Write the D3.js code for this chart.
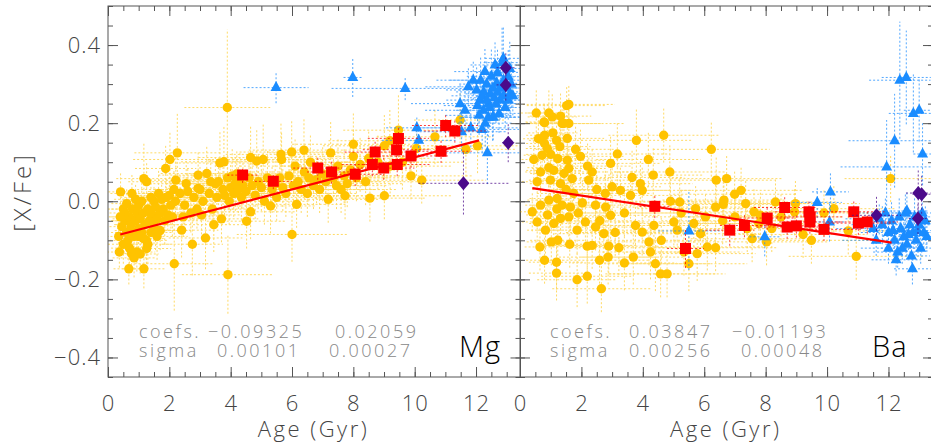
<!DOCTYPE html>
<head>
  <meta charset="utf-8">
  <title>[X/Fe] vs age</title>
  <script src="https://d3js.org/d3.v7.min.js"></script>
  <style>
    body { margin: 0; background: #fff; }
    text { font-family: 'Open Sans', 'DejaVu Sans', sans-serif; font-weight: 300; }
    .axis path { display: none; }
    .axis line { stroke: #555; }
    .axis text { font-size: 22px; fill: #444; letter-spacing: 1px; }
    .frame { fill: none; stroke: #555; stroke-width: 1; }
    .err { stroke-dasharray: 2,2; stroke-width: 1; fill: none; }
    .stat { font-size: 18px; fill: #888; letter-spacing: 2.5px; }
    .elem { font-size: 29px; fill: #000; letter-spacing: 1px; }
    .title { font-size: 22px; fill: #444; letter-spacing: 2.5px; }
  </style>
</head>
<body>
<script>
// tick labels
var ageTicks = [0, 2, 4, 6, 8, 10, 12];
var valTicks = [-0.4, -0.2, 0.0, 0.2, 0.4];

// [age, [X/Fe], age error, [X/Fe] error]
var mgDisk = [
  [0.41,0.024,0.4,0.05],[0.37,-0.130,0.4,0.04],[0.68,-0.173,0.5,0.04],[1.17,-0.173,0.7,0.05],[0.77,-0.134,0.5,0.04],
  [0.94,-0.130,0.6,0.05],[1.26,-0.121,0.8,0.05],[0.61,-0.006,0.5,0.04],[0.78,0.020,0.7,0.05],[1.17,0.058,0.9,0.09],
  [1.26,0.050,0.6,0.05],[0.50,-0.020,0.5,0.04],[0.55,-0.050,0.4,0.05],[0.60,-0.080,0.5,0.04],[0.65,-0.100,0.6,0.05],
  [0.70,-0.040,0.6,0.03],[0.75,-0.060,0.5,0.04],[0.80,-0.020,0.7,0.04],[0.85,-0.090,0.6,0.05],[0.90,-0.050,0.8,0.04],
  [0.95,-0.030,0.5,0.03],[1.00,-0.070,0.7,0.05],[1.00,-0.010,0.6,0.04],[1.05,-0.045,0.9,0.05],[1.10,-0.080,0.6,0.04],
  [1.10,0.000,0.7,0.05],[1.15,-0.030,0.8,0.04],[1.20,-0.060,1.0,0.05],[1.25,-0.100,0.7,0.06],[1.30,-0.020,0.9,0.04],
  [1.35,-0.050,0.8,0.05],[1.40,0.010,1.0,0.05],[1.40,-0.080,0.7,0.04],[1.45,-0.035,0.9,0.05],[1.50,-0.060,1.1,0.05],
  [1.50,0.000,0.8,0.04],[1.55,-0.015,0.9,0.05],[1.60,-0.045,1.0,0.05],[1.65,0.020,1.2,0.06],[1.70,-0.030,0.9,0.04],
  [1.70,-0.075,1.0,0.05],[1.75,0.005,1.1,0.05],[1.80,-0.020,0.8,0.05],[1.85,-0.050,1.2,0.06],[1.90,0.010,1.0,0.05],
  [1.95,-0.035,0.9,0.04],[2.00,0.015,1.1,0.05],[2.05,-0.010,1.3,0.06],[2.10,-0.040,1.0,0.05],[2.15,0.030,1.2,0.05],
  [2.20,0.000,1.0,0.04],[0.45,-0.065,0.4,0.05],[0.50,-0.110,0.5,0.05],[0.55,-0.030,0.5,0.04],[0.70,-0.120,0.6,0.05],
  [0.85,-0.145,0.7,0.05],[1.05,-0.135,0.6,0.05],[0.35,-0.090,0.4,0.05],[0.40,-0.040,0.5,0.04],[0.90,0.005,0.7,0.04],
  [1.30,-0.110,0.8,0.05],[1.60,-0.090,1.0,0.06],[1.15,-0.095,0.7,0.05],[0.72,-0.075,0.5,0.04],[0.98,-0.090,0.6,0.05],
  [1.38,-0.030,0.8,0.04],[1.55,-0.075,0.9,0.05],
  [1.88,0.084,1.0,0.06],[2.02,0.107,1.2,0.07],[2.26,0.124,1.4,0.10],[2.21,0.054,1.1,0.06],[2.40,-0.074,1.2,0.07],
  [2.75,-0.110,1.0,0.08],[2.16,-0.160,1.3,0.12],[3.18,-0.094,1.2,0.08],[2.94,0.067,1.3,0.06],[3.22,0.071,1.5,0.07],
  [2.94,0.033,1.0,0.05],[2.35,0.020,1.2,0.05],[2.50,-0.010,1.0,0.05],[2.60,0.025,1.3,0.06],[2.70,-0.030,1.1,0.05],
  [2.80,0.010,1.4,0.06],[2.90,-0.020,1.2,0.05],[3.00,0.030,1.5,0.06],[3.10,0.000,1.3,0.05],[3.30,0.020,1.4,0.06],
  [3.40,-0.020,1.2,0.05],[3.50,0.045,1.6,0.07],[3.55,0.010,1.3,0.05],[3.60,0.050,1.4,0.06],[3.70,-0.045,1.2,0.06],
  [3.75,0.030,1.5,0.06],[3.80,0.015,1.3,0.05],[3.90,0.060,1.6,0.07],[3.95,0.000,1.4,0.06],[2.45,-0.040,1.0,0.05],
  [2.55,0.045,1.2,0.06],[3.05,-0.035,1.3,0.06],[3.35,0.050,1.5,0.06],[3.45,-0.060,1.2,0.07],[3.65,0.098,1.6,0.08],
  [3.78,0.101,1.4,0.09],[3.89,0.240,1.4,0.20],[3.91,-0.188,1.5,0.10],
  [4.00,0.035,1.5,0.06],[4.05,0.065,1.6,0.07],[4.10,0.020,1.4,0.06],[4.15,0.045,1.7,0.07],[4.20,0.070,1.5,0.06],
  [4.25,0.030,1.6,0.06],[4.30,0.055,1.8,0.07],[4.35,0.010,1.4,0.06],[4.40,0.040,1.6,0.06],[4.50,0.025,1.5,0.06],
  [4.52,-0.051,1.3,0.07],[4.65,-0.027,1.5,0.07],[4.65,0.112,1.7,0.08],[4.85,0.103,1.6,0.08],[5.06,0.107,1.8,0.09],
  [4.60,0.060,1.5,0.06],[4.70,0.040,1.6,0.06],[4.80,0.015,1.4,0.06],[4.90,0.050,1.7,0.07],[5.00,0.035,1.6,0.06],
  [5.10,0.000,1.5,0.06],[5.20,0.060,1.7,0.07],[5.30,-0.012,1.5,0.07],[5.35,0.030,1.6,0.06],[5.45,0.045,1.8,0.07],
  [5.50,0.010,1.5,0.06],[5.64,0.120,1.8,0.08],[5.66,0.107,1.6,0.07],[5.60,0.060,1.7,0.06],[5.70,0.035,1.5,0.06],
  [5.80,0.020,1.6,0.06],[5.90,0.065,1.7,0.07],[6.00,-0.085,1.8,0.07],[5.99,0.126,1.7,0.08],[6.39,0.131,1.8,0.08],
  [6.15,-0.008,1.6,0.06],[6.05,0.040,1.7,0.06],[6.10,0.090,1.8,0.07],[6.20,0.050,1.6,0.06],[6.30,0.030,1.7,0.06],
  [6.40,0.075,1.8,0.07],[6.50,0.020,1.6,0.06],[6.55,0.060,1.7,0.06],[6.60,0.100,1.9,0.07],[6.70,0.040,1.7,0.06],
  [6.80,0.055,1.8,0.06],[6.90,0.030,1.8,0.06],[7.00,0.070,1.9,0.07],[7.10,0.050,1.8,0.06],[7.18,0.005,1.7,0.06],
  [7.26,0.124,2.0,0.08],[7.35,0.060,1.8,0.06],[7.45,0.040,1.7,0.06],[7.50,0.090,1.9,0.07],[7.60,0.030,1.8,0.06],
  [7.73,0.014,1.7,0.06],[7.70,0.065,1.9,0.07],[7.80,0.045,1.8,0.06],[7.90,0.080,2.0,0.07],[8.00,0.146,2.0,0.08],
  [8.00,0.115,1.9,0.07],[8.10,0.060,1.8,0.06],[8.22,0.094,2.0,0.07],[8.40,0.050,1.9,0.06],[8.54,0.008,1.8,0.06],
  [8.50,0.110,2.0,0.07],[8.80,0.100,2.0,0.07],[9.01,0.014,2.2,0.06],[9.01,0.142,2.0,0.08],[9.19,0.155,2.0,0.08],
  [9.47,0.182,1.8,0.09],[9.20,0.090,2.0,0.07],[9.88,0.065,2.0,0.06],[10.23,0.054,2.1,0.06],[10.66,0.165,1.9,0.07],
  [11.48,0.208,1.5,0.07],[11.67,0.133,1.6,0.07],[12.05,0.142,1.5,0.07],[10.06,0.135,2.0,0.07],[9.60,0.100,2.0,0.07]
];
var mgHalo = [
  [5.48,0.291,1.06,0.04],[7.98,0.317,0.3,0.05],[9.69,0.289,2.4,0.03],[10.07,0.188,1.0,0.03],[10.13,0.156,1.2,0.04],
  [12.37,0.124,1.5,0.08],[12.54,0.215,1.0,0.06],[11.83,0.188,1.8,0.05],[11.53,0.178,1.5,0.05],[12.20,0.184,1.2,0.06],
  [12.62,0.349,0.8,0.06],[12.89,0.366,0.6,0.08],[12.29,0.332,1.0,0.06],[11.91,0.310,1.2,0.05],[11.75,0.293,1.4,0.05],
  [11.48,0.250,1.6,0.05],[11.64,0.233,1.3,0.05],[12.02,0.285,1.0,0.06],[12.13,0.259,1.1,0.05],[12.24,0.233,0.9,0.05],
  [12.46,0.275,0.8,0.06],[12.67,0.302,0.7,0.06],[12.78,0.259,0.7,0.05],[13.05,0.319,0.5,0.07],[13.11,0.276,0.5,0.06],
  [13.05,0.259,0.6,0.05],[12.56,0.216,0.9,0.06],[12.35,0.300,0.9,0.06],[12.40,0.250,1.0,0.05],[12.50,0.320,0.8,0.07],
  [12.70,0.330,0.7,0.06],[12.80,0.290,0.6,0.05],[12.90,0.310,0.6,0.06],[12.95,0.240,0.6,0.05],[13.00,0.290,0.5,0.06],
  [13.15,0.300,0.4,0.06],[12.20,0.270,1.0,0.05],[12.10,0.220,1.1,0.05],[12.30,0.200,0.9,0.06],[12.45,0.240,0.8,0.05],
  [12.60,0.265,0.8,0.05],[12.75,0.225,0.7,0.05],[12.85,0.355,0.6,0.09],[13.20,0.270,0.4,0.05],[12.15,0.310,1.0,0.06],
  [12.55,0.290,0.8,0.05],[12.65,0.250,0.7,0.05],[12.05,0.245,1.1,0.05],[13.10,0.340,0.5,0.07],[12.25,0.280,0.9,0.05],
  [12.40,0.215,0.9,0.05],[12.70,0.280,0.7,0.05],[12.90,0.270,0.6,0.05],[12.35,0.260,0.9,0.05]
];
var mgThick = [
  [4.39,0.067,0.5,0.02],[5.39,0.051,0.6,0.02],[6.84,0.085,0.8,0.03],[7.29,0.075,0.8,0.03],[8.06,0.069,0.9,0.03],
  [8.62,0.094,1.0,0.03],[8.71,0.126,1.0,0.03],[8.99,0.085,1.0,0.03],[9.41,0.132,1.1,0.04],[9.47,0.161,1.0,0.03],
  [9.43,0.094,1.1,0.03],[9.88,0.116,1.2,0.03],[10.86,0.128,1.0,0.03],[11.01,0.194,1.1,0.03],[11.31,0.180,1.0,0.03]
];
var mgOdd = [[12.97,0.342,0.3,0.04],[12.97,0.298,0.3,0.04],[13.05,0.150,0.2,0.05],[11.59,0.046,1.47,0.08]];
var mgFit = [-0.09325, 0.02059], mgSigma = [0.00101, 0.00027];

var baDisk = [
  [1.59,0.248,1.5,0.05],[1.52,0.245,1.3,0.05],[0.53,0.226,0.5,0.06],[0.78,0.203,0.6,0.05],[1.05,0.216,0.8,0.06],
  [1.32,0.218,1.0,0.06],[1.37,0.199,0.9,0.05],[1.59,0.199,1.8,0.05],[0.94,0.226,0.7,0.06],[0.80,0.201,0.6,0.05],
  [1.43,0.199,1.2,0.05],[0.80,0.169,0.6,0.07],[1.07,0.175,0.8,0.06],[1.19,0.156,0.9,0.06],[1.54,0.161,1.2,0.06],
  [0.80,0.148,0.6,0.05],[0.89,0.135,0.7,0.06],[1.81,0.133,1.3,0.06],[1.97,0.115,1.4,0.07],[0.45,0.107,0.4,0.06],
  [0.72,0.118,0.6,0.05],[1.23,0.109,0.9,0.06],[1.54,0.105,1.2,0.06],[0.94,0.086,0.7,0.06],[0.67,0.075,0.5,0.05],
  [1.10,0.079,0.9,0.06],[1.43,0.071,1.1,0.06],[1.59,0.084,1.2,0.06],[2.35,0.075,1.5,0.06],[2.95,0.097,1.6,0.07],
  [3.17,0.121,1.7,0.08],[3.79,0.156,1.8,0.08],[4.68,0.169,1.8,0.07],[4.18,0.107,1.7,0.07],[4.34,0.067,1.6,0.07],
  [4.88,0.075,1.8,0.07],[5.20,-0.002,1.7,0.06],[6.23,0.133,1.9,0.07],[6.73,0.058,1.8,0.06],[6.39,0.054,1.9,0.06],
  [0.56,0.050,0.5,0.05],[0.99,0.054,0.7,0.05],[1.32,0.045,1.0,0.05],[1.70,0.058,1.2,0.06],[2.24,0.054,1.5,0.06],
  [2.78,0.020,1.5,0.06],[3.00,0.037,1.6,0.06],[3.27,0.028,1.6,0.06],[3.65,0.061,1.7,0.07],[3.92,0.045,1.7,0.06],
  [3.98,0.028,1.6,0.06],[3.60,0.015,1.7,0.06],[0.40,-0.027,0.4,0.05],[0.67,-0.010,0.5,0.05],[0.94,0.003,0.7,0.05],
  [1.21,0.007,0.9,0.05],[1.37,-0.010,1.0,0.05],[1.64,-0.015,1.2,0.06],[2.03,-0.004,1.4,0.06],[2.46,-0.010,1.5,0.06],
  [2.79,-0.015,1.6,0.06],[2.95,-0.036,1.6,0.06],[0.56,-0.053,0.5,0.05],[0.83,-0.074,0.6,0.06],[1.10,-0.057,0.8,0.05],
  [1.32,-0.044,1.0,0.05],[1.59,-0.040,1.2,0.05],[1.86,-0.074,1.3,0.06],[2.13,-0.053,1.4,0.06],[2.46,-0.066,1.5,0.06],
  [2.73,-0.083,1.6,0.06],[0.65,-0.117,0.5,0.06],[1.02,-0.104,0.8,0.06],[1.23,-0.100,0.9,0.06],[1.62,-0.110,1.1,0.06],
  [2.19,-0.115,1.4,0.07],[2.35,-0.113,1.5,0.06],[2.89,-0.115,1.6,0.07],[3.22,-0.119,1.7,0.07],[0.80,-0.151,0.6,0.06],
  [1.19,-0.156,0.9,0.07],[2.59,-0.151,1.6,0.07],[2.87,-0.143,1.6,0.07],[3.40,-0.158,1.7,0.07],[3.69,-0.143,1.7,0.07],
  [1.19,-0.184,0.9,0.07],[1.86,-0.201,1.3,0.07],[2.19,-0.192,1.5,0.07],[2.65,-0.224,1.6,0.06],[3.76,-0.062,1.7,0.06],
  [3.98,-0.079,1.7,0.06],[4.20,-0.104,1.8,0.06],[4.25,-0.130,1.7,0.07],[4.41,-0.160,1.8,0.07],[4.58,-0.186,1.8,0.06],
  [4.79,-0.186,1.9,0.06],[4.36,-0.062,1.8,0.06],[5.01,-0.053,1.8,0.06],[5.34,-0.130,1.9,0.06],[5.77,-0.134,1.9,0.07],
  [6.10,-0.117,1.9,0.06],[6.37,-0.119,2.0,0.06],[5.66,-0.057,1.9,0.06],[5.88,-0.083,1.9,0.06],[6.04,-0.040,2.0,0.06],
  [6.37,-0.015,2.0,0.06],[6.64,0.003,2.0,0.06],[5.72,-0.019,1.9,0.06],[5.12,-0.074,1.8,0.06],[6.99,0.018,2.0,0.06],
  [7.20,0.028,2.0,0.06],[6.62,-0.008,2.0,0.06],[7.35,-0.006,2.0,0.06],[7.62,-0.027,2.0,0.06],[7.83,-0.036,2.1,0.06],
  [8.32,-0.002,2.0,0.06],[8.97,-0.006,2.1,0.06],[8.94,-0.027,2.0,0.06],[7.56,-0.096,2.0,0.06],[8.03,-0.104,2.0,0.06],
  [9.22,-0.085,2.1,0.06],[9.49,-0.100,2.0,0.06],[9.90,-0.030,2.0,0.06],[10.22,-0.019,2.0,0.06],[10.69,-0.076,2.0,0.06],
  [10.95,-0.141,2.2,0.06],[12.07,0.058,1.5,0.06],[7.78,-0.057,2.0,0.06],[1.75,0.020,1.2,0.05],[2.50,0.030,1.5,0.06],
  [1.90,-0.030,1.3,0.05],[2.20,0.090,1.4,0.06],[0.60,0.160,0.5,0.06],[1.30,0.140,1.0,0.06],[1.00,0.120,0.8,0.06],
  [1.20,-0.020,0.9,0.05],[0.90,-0.035,0.7,0.05],[1.50,0.030,1.1,0.05],[2.60,-0.050,1.5,0.06],[3.10,-0.080,1.6,0.06],
  [3.40,-0.030,1.7,0.06],[4.60,-0.100,1.8,0.06],[5.50,-0.160,1.9,0.07],[5.25,-0.030,1.8,0.06],[4.90,0.000,1.8,0.06],
  [6.60,-0.050,2.0,0.06],[7.00,-0.040,2.0,0.06],[7.40,-0.070,2.0,0.06],[8.50,-0.040,2.0,0.06],[8.20,-0.070,2.0,0.06]
];
var baHalo = [
  [5.50,-0.076,1.0,0.10],[7.97,-0.091,0.5,0.05],[9.68,-0.003,0.8,0.04],[10.11,0.024,0.6,0.05],[10.08,-0.053,0.5,0.05],
  [11.94,0.088,1.5,0.12],[12.20,0.155,1.5,0.12],[12.37,0.310,1.0,0.15],[12.58,0.317,0.8,0.12],[12.81,0.225,0.8,0.10],
  [13.00,0.233,0.5,0.08],[13.11,0.121,0.3,0.08],[12.78,-0.173,0.6,0.04],
  [11.50,-0.070,1.2,0.04],[11.60,-0.100,1.1,0.04],[11.80,-0.060,1.0,0.05],[11.90,-0.030,1.0,0.04],[12.00,-0.080,0.9,0.04],
  [12.10,-0.050,0.9,0.05],[12.20,-0.100,0.8,0.04],[12.30,-0.130,0.8,0.04],[12.35,-0.040,0.8,0.05],[12.40,-0.070,0.8,0.04],
  [12.50,-0.090,0.7,0.04],[12.55,-0.030,0.7,0.05],[12.60,-0.110,0.7,0.04],[12.70,-0.060,0.6,0.04],[12.75,-0.140,0.6,0.04],
  [12.80,-0.080,0.6,0.04],[12.85,-0.040,0.6,0.05],[12.90,-0.100,0.5,0.04],[13.00,-0.060,0.5,0.04],[13.05,-0.120,0.5,0.04],
  [13.10,-0.030,0.4,0.05],[13.15,-0.080,0.4,0.04],[13.20,-0.050,0.4,0.04],[12.25,-0.150,0.8,0.04],[12.45,-0.120,0.7,0.04],
  [12.65,-0.085,0.7,0.04],[12.95,-0.075,0.5,0.04],[12.15,-0.075,0.9,0.04],[13.25,-0.090,0.3,0.04],[12.00,-0.120,0.9,0.04],
  [11.70,-0.045,1.1,0.04],[12.60,-0.025,0.7,0.05]
];
var baThick = [
  [4.39,-0.013,0.5,0.03],[5.39,-0.121,0.6,0.05],[6.83,-0.074,0.8,0.04],[7.31,-0.062,0.8,0.03],[8.05,-0.043,0.9,0.03],
  [8.62,-0.016,1.0,0.03],[8.70,-0.066,1.0,0.03],[9.00,-0.063,1.0,0.03],[9.41,-0.027,1.1,0.03],[9.44,-0.053,1.0,0.03],
  [9.45,-0.040,1.1,0.03],[9.90,-0.072,1.2,0.03],[10.87,-0.027,1.0,0.03],[11.02,-0.056,1.1,0.03],[11.31,-0.053,1.0,0.03]
];
var baOdd = [[11.61,-0.036,0.8,0.05],[12.97,0.021,0.4,0.06],[13.08,0.018,0.3,0.05],[12.96,-0.044,0.3,0.04]];
var baFit = [0.03847, -0.01193], baSigma = [0.00256, 0.00048];

var fitRange = [0.4, 12.1];

var panels = [
  {name: "Mg", left: 108, right: 520.5, disk: mgDisk, halo: mgHalo, thick: mgThick, odd: mgOdd, fit: mgFit, sigma: mgSigma,
   statX: [139, 208, 335, 217, 329], nameX: 459},
  {name: "Ba", left: 520, right: 933, disk: baDisk, halo: baHalo, thick: baThick, odd: baOdd, fit: baFit, sigma: baSigma,
   statX: [550, 629, 732, 629, 741], nameX: 872}
];

var plotTop = 6, plotBottom = 377;
var colors = {disk: "#FFC300", halo: "#1A8CFF", thick: "#FF0000", odd: "#4B0A8A"};

var svg = d3.select("body").append("svg")
  .attr("width", 931).attr("height", 448);

var fmt = d => (d < 0 ? "\u2212" : "") + Math.abs(d).toFixed(5);

panels.forEach(function(p, i) {
  var x = d3.scaleLinear().domain([0, 13.45]).range([p.left, p.right]);
  var y = d3.scaleLinear().domain([-0.45, 0.5]).range([plotBottom, plotTop]);

  svg.append("defs").append("clipPath").attr("id", "clip" + i)
    .append("rect").attr("x", p.left).attr("y", plotTop)
    .attr("width", p.right - p.left).attr("height", plotBottom - plotTop);

  var g = svg.append("g").attr("clip-path", "url(#clip" + i + ")");

  function group(data, key, marker) {
    var gg = g.append("g");
    var eb = gg.append("g").attr("class", "err")
      .style("stroke", colors[key]).style("opacity", key == "disk" ? 0.6 : 0.75);
    eb.selectAll("line.h").data(data).enter().append("line")
      .attr("x1", d => x(d[0] - d[2])).attr("x2", d => x(d[0] + d[2]))
      .attr("y1", d => y(d[1])).attr("y2", d => y(d[1]));
    eb.selectAll("line.v").data(data).enter().append("line")
      .attr("x1", d => x(d[0])).attr("x2", d => x(d[0]))
      .attr("y1", d => y(d[1] - d[3])).attr("y2", d => y(d[1] + d[3]));
    gg.append("g").selectAll("path").data(data).enter().append("path")
      .attr("transform", d => "translate(" + x(d[0]) + "," + y(d[1]) + ")")
      .attr("d", marker)
      .style("fill", colors[key]);
  }

  var circle = "M4.7,0A4.7,4.7 0 1,1 -4.7,0A4.7,4.7 0 1,1 4.7,0Z";
  var square = "M-5.5,-5.5H5.5V5.5H-5.5Z";
  var triangle = "M0,-6.5L5.5,3.5L-5.5,3.5Z";
  var diamond = "M0,-7L6,0L0,7L-6,0Z";

  group(p.disk, "disk", circle);
  group(p.halo, "halo", triangle);
  group(p.thick, "thick", square);
  group(p.odd, "odd", diamond);

  // fit line
  g.append("line")
    .attr("x1", x(fitRange[0])).attr("y1", y(p.fit[0] + p.fit[1] * fitRange[0]))
    .attr("x2", x(fitRange[1])).attr("y2", y(p.fit[0] + p.fit[1] * fitRange[1]))
    .style("stroke", "#FF0000").style("stroke-width", 2.2);

  // axes, ticks inward on all four sides
  var minorX = d3.range(0, 13.45, 0.5);
  var minorY = d3.range(-0.45, 0.5001, 0.05).map(v => +v.toFixed(2));

  svg.append("g").attr("class", "axis").attr("transform", "translate(0," + plotBottom + ")")
    .call(d3.axisBottom(x).tickValues(minorX).tickSize(-5).tickFormat(""));
  svg.append("g").attr("class", "axis").attr("transform", "translate(0," + plotBottom + ")")
    .call(d3.axisBottom(x).tickValues(ageTicks).tickSize(-10).tickPadding(18).tickFormat(d3.format("d")));
  svg.append("g").attr("class", "axis").attr("transform", "translate(0," + plotTop + ")")
    .call(d3.axisTop(x).tickValues(minorX).tickSize(-5).tickFormat(""));
  svg.append("g").attr("class", "axis").attr("transform", "translate(0," + plotTop + ")")
    .call(d3.axisTop(x).tickValues(ageTicks).tickSize(-10).tickFormat(""));

  svg.append("g").attr("class", "axis").attr("transform", "translate(" + p.left + ",0)")
    .call(d3.axisLeft(y).tickValues(minorY).tickSize(-5).tickFormat(""));
  svg.append("g").attr("class", "axis").attr("transform", "translate(" + p.left + ",0)")
    .call(d3.axisLeft(y).tickValues(valTicks).tickSize(-10).tickPadding(7)
      .tickFormat(i == 0 ? (d => (d < 0 ? "\u2212" : "") + Math.abs(d).toFixed(1)) : ""));
  svg.append("g").attr("class", "axis").attr("transform", "translate(" + p.right + ",0)")
    .call(d3.axisRight(y).tickValues(minorY).tickSize(-5).tickFormat(""));
  svg.append("g").attr("class", "axis").attr("transform", "translate(" + p.right + ",0)")
    .call(d3.axisRight(y).tickValues(valTicks).tickSize(-10).tickFormat(""));

  svg.append("rect").attr("class", "frame")
    .attr("x", p.left).attr("y", plotTop).attr("width", p.right - p.left).attr("height", plotBottom - plotTop);

  // fit coefficients
  var s = p.statX;
  svg.append("text").attr("class", "stat").attr("x", s[0]).attr("y", 338).text("coefs.");
  svg.append("text").attr("class", "stat").attr("x", s[1]).attr("y", 338).text(fmt(p.fit[0]));
  svg.append("text").attr("class", "stat").attr("x", s[2]).attr("y", 338).text(fmt(p.fit[1]));
  svg.append("text").attr("class", "stat").attr("x", s[0]).attr("y", 357).text("sigma");
  svg.append("text").attr("class", "stat").attr("x", s[3]).attr("y", 357).text(fmt(p.sigma[0]));
  svg.append("text").attr("class", "stat").attr("x", s[4]).attr("y", 357).text(fmt(p.sigma[1]));

  svg.append("text").attr("class", "elem").attr("x", p.nameX).attr("y", 357).text(p.name);

  svg.append("text").attr("class", "title")
    .attr("x", x(6.7)).attr("y", 437).attr("text-anchor", "middle").text("Age (Gyr)");
});

svg.append("text").attr("class", "title")
  .attr("transform", "translate(31,192) rotate(-90)")
  .style("font-size", "24px").style("letter-spacing", "3px")
  .attr("text-anchor", "middle").text("[X/Fe]");
</script>
</body>
